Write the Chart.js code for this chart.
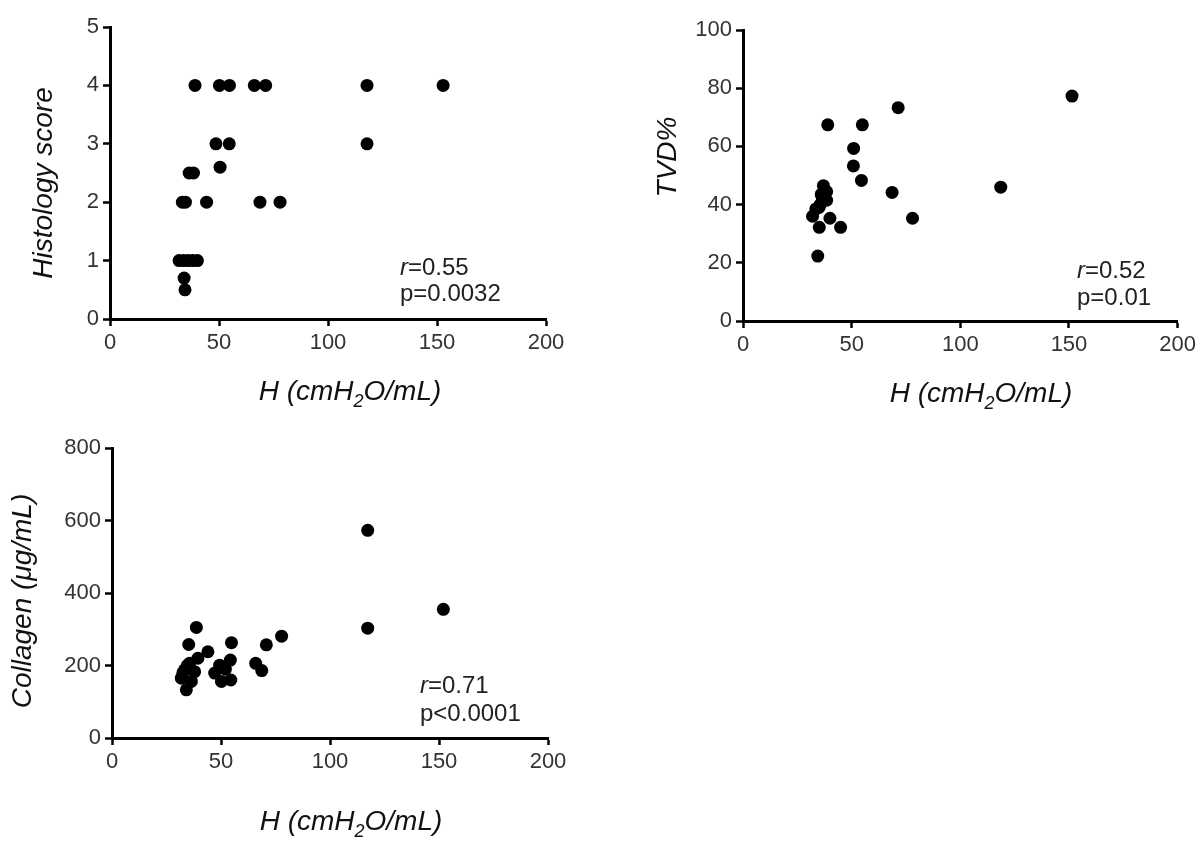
<!DOCTYPE html>
<html>
<head>
<meta charset="utf-8">
<script src="https://cdn.jsdelivr.net/npm/chart.js@4.4.1/dist/chart.umd.min.js"></script>
<style>
  html, body { margin: 0; padding: 0; background: #fff; }
  body { position: relative; width: 1200px; height: 860px; overflow: hidden; }
  canvas { position: absolute; }
  #chart-hist { left: 0; top: 0; }
  #chart-tvd { left: 620px; top: 0; }
  #chart-coll { left: 0; top: 430px; }
</style>
</head>
<body>
<canvas id="chart-hist" width="600" height="420"></canvas>
<canvas id="chart-tvd" width="580" height="420"></canvas>
<canvas id="chart-coll" width="600" height="430"></canvas>
<script>
// x axis shared by all three panels
const xTickValues = [0, 50, 100, 150, 200];

// Histology score vs H
const histH = [39, 50.2, 54.8, 66.2, 71.4, 117.9, 152.8, 48.6, 54.7, 117.9, 50.5, 36.3, 38.3,
  33.2, 34.6, 44.3, 68.8, 78, 31.7, 33.8, 35.9, 38, 40.1, 34, 34.4];
const histScore = [4, 4, 4, 4, 4, 4, 4, 3, 3, 3, 2.6, 2.5, 2.5,
  2, 2, 2, 2, 2, 1, 1, 1, 1, 1, 0.7, 0.5];
const histTicks = [0, 1, 2, 3, 4, 5];

// TVD% vs H
const tvdH = [32, 33.5, 35, 35.5, 36, 36.5, 37, 38.5, 38.5, 34.4, 35.1, 40, 44.9, 39,
  54.9, 50.9, 50.8, 54.5, 68.6, 71.4, 78, 118.6, 151.4];
const tvdPct = [36, 38.5, 39, 40, 43.5, 42.5, 46.5, 44.5, 41.5, 22.3, 32.2, 35.3, 32.2, 67.4,
  67.4, 59.3, 53.3, 48.3, 44.2, 73.3, 35.3, 46, 77.3];
const tvdTicks = [0, 20, 40, 60, 80, 100];

// Collagen vs H
const collH = [38.7, 35.2, 44, 39.4, 35.6, 33.3, 37.9, 31.8, 36.4, 34.1, 32.5, 34.5, 49.4,
  47.1, 50.2, 54.3, 54.5, 54.8, 52, 65.9, 68.7, 70.8, 77.8, 117.3, 117.3, 152];
const collVal = [305, 258, 238, 220, 206, 188, 183, 165, 156, 133, 180, 200, 201,
  179, 156, 215, 160, 263, 190, 206, 186, 257, 281, 573, 303, 355];
const collTicks = [0, 200, 400, 600, 800];

const FONT = "'Liberation Sans', Arial, sans-serif";
const INK = '#111';

function drawXTitle(ctx, cx, baseline) {
  const parts = [
    { text: 'H (cmH', size: 28, dy: 0 },
    { text: '2', size: 18, dy: 7 },
    { text: 'O/mL)', size: 28, dy: 0 }
  ];
  let total = 0;
  parts.forEach(p => {
    ctx.font = `italic ${p.size}px ${FONT}`;
    p.w = ctx.measureText(p.text).width;
    total += p.w;
  });
  let x = cx - total / 2;
  ctx.textAlign = 'left';
  ctx.textBaseline = 'alphabetic';
  parts.forEach(p => {
    ctx.font = `italic ${p.size}px ${FONT}`;
    ctx.fillText(p.text, x, baseline + p.dy);
    x += p.w;
  });
}

function drawStats(ctx, s) {
  ctx.textBaseline = 'middle';
  ctx.textAlign = 'left';
  ctx.fillStyle = '#222';
  ctx.font = `italic 24px ${FONT}`;
  ctx.fillText('r', s.x, s.y1);
  const rw = ctx.measureText('r').width;
  ctx.font = `24px ${FONT}`;
  ctx.fillText(s.r, s.x + rw, s.y1);
  ctx.fillText(s.p, s.x, s.y2);
}

const panelText = {
  id: 'panelText',
  afterDraw(chart, args, opts) {
    const ctx = chart.ctx;
    ctx.save();
    ctx.fillStyle = INK;
    ctx.font = `italic 28px ${FONT}`;
    ctx.save();
    ctx.translate(opts.yTitle.x, opts.yTitle.y);
    ctx.rotate(-Math.PI / 2);
    ctx.textAlign = 'center';
    ctx.textBaseline = 'alphabetic';
    ctx.fillText(opts.yTitle.text, 0, 0);
    ctx.restore();
    drawXTitle(ctx, opts.xTitle.x, opts.xTitle.y);
    drawStats(ctx, opts.stats);
    ctx.restore();
  }
};

function axis(tickValues, max, fit) {
  return {
    type: 'linear',
    min: 0,
    max: max,
    afterBuildTicks: s => { s.ticks = tickValues.map(v => ({ value: v })); },
    afterFit: fit,
    border: { display: true, color: '#000', width: 3 },
    grid: { display: true, drawOnChartArea: false, drawTicks: true, tickLength: 7, tickWidth: 2.5, tickColor: '#000' },
    ticks: { font: { family: FONT, size: 22 }, color: '#333', padding: 4, maxRotation: 0, autoSkip: false }
  };
}

function buildPanel(canvasId, xs, ys, yTicks, geo, text) {
  const canvas = document.getElementById(canvasId);
  const points = xs.map((x, i) => ({ x, y: ys[i] }));
  new Chart(canvas.getContext('2d'), {
    type: 'scatter',
    data: {
      datasets: [{
        data: points,
        backgroundColor: '#000',
        borderColor: '#000',
        borderWidth: 0,
        pointRadius: 6.5,
        pointHoverRadius: 6.5
      }]
    },
    options: {
      responsive: false,
      animation: false,
      events: [],
      layout: { padding: { top: geo.top, right: geo.w - geo.right, left: 0, bottom: 0 } },
      plugins: { legend: { display: false }, tooltip: { enabled: false }, panelText: text },
      scales: {
        x: axis(xTickValues, 200, s => { s.height = geo.h - geo.bottom; }),
        y: axis(yTicks, yTicks[yTicks.length - 1], s => { s.width = geo.left; })
      }
    },
    plugins: [panelText]
  });
}

buildPanel('chart-hist', histH, histScore, histTicks,
  { w: 600, h: 420, left: 110, right: 546, top: 27, bottom: 319 },
  {
    yTitle: { text: 'Histology score', x: 52, y: 183 },
    xTitle: { x: 350, y: 400 },
    stats: { r: '=0.55', p: 'p=0.0032', x: 400, y1: 268, y2: 294 }
  });

buildPanel('chart-tvd', tvdH, tvdPct, tvdTicks,
  { w: 580, h: 420, left: 123, right: 563, top: 30, bottom: 321 },
  {
    yTitle: { text: 'TVD%', x: 56, y: 157 },
    xTitle: { x: 361, y: 402 },
    stats: { r: '=0.52', p: 'p=0.01', x: 457, y1: 271, y2: 298 }
  });

buildPanel('chart-coll', collH, collVal, collTicks,
  { w: 600, h: 430, left: 112, right: 548, top: 18, bottom: 308 },
  {
    yTitle: { text: 'Collagen (μg/mL)', x: 31, y: 171 },
    xTitle: { x: 351, y: 400 },
    stats: { r: '=0.71', p: 'p<0.0001', x: 420, y1: 256, y2: 284 }
  });
</script>
</body>
</html>
